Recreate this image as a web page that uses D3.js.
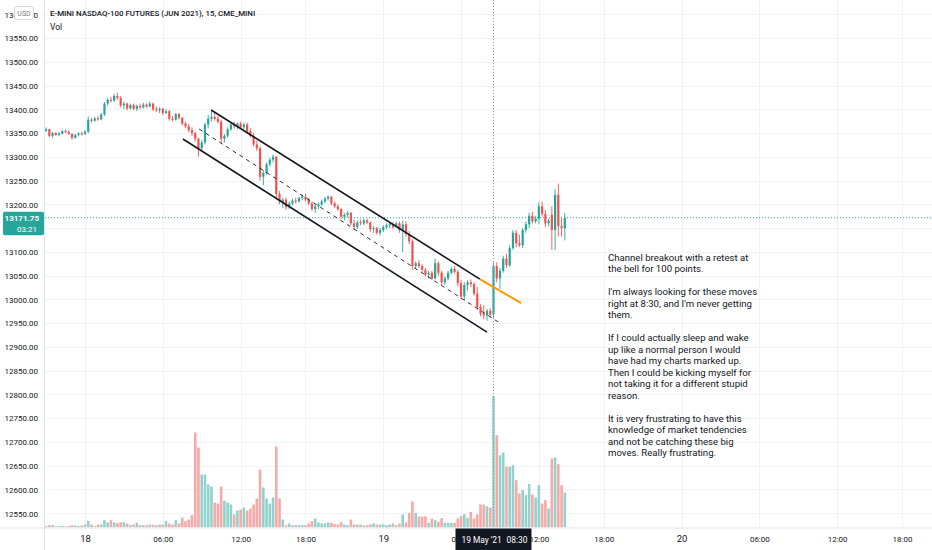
<!DOCTYPE html>
<html lang="en">
<head>
<meta charset="UTF-8" />
<title>E-mini Nasdaq-100 15m</title>
<style>
  body { margin: 0; background: #ffffff; }
  svg text { font-family: Roboto, "Open Sans", sans-serif; }
</style>
</head>
<body>
<script src="https://cdn.jsdelivr.net/npm/d3@7"></script>
<div id="app"></div>
<script>
// DATA (15 min bars from 17 May 21:00 CT)
const opens = [
  13355,13358,13344,13350,13346,13349,13354,13352,13348,13340,
  13346,13349,13348,13353,13378,13376,13381,13379,13389,13412,
  13420,13418,13428,13424,13408,13412,13402,13409,13401,13407,
  13404,13410,13406,13412,13400,13398,13401,13392,13396,13380,
  13378,13390,13382,13370,13364,13356,13350,13338,13318,13330,
  13368,13380,13384,13380,13374,13338,13344,13358,13368,13364,
  13370,13362,13368,13354,13344,13326,13318,13258,13266,13284,
  13294,13300,13222,13206,13210,13194,13202,13208,13206,13213,
  13216,13210,13202,13190,13196,13200,13206,13212,13216,13202,
  13196,13190,13174,13178,13182,13160,13152,13162,13160,13166,
  13162,13148,13150,13140,13146,13152,13156,13158,13152,13160,
  13146,13158,13138,13122,13070,13076,13070,13062,13052,13056,
  13044,13076,13056,13036,13044,13056,13064,13058,13034,13006,
  13030,13036,13032,13012,12984,12970,12966,12976,12968,13070,
  13044,13060,13086,13072,13108,13140,13118,13114,13146,13158,
  13176,13164,13170,13196,13180,13160,13178,13146,13220,13154,
  13150
];
const highs = [
  13362,13359,13352,13352,13352,13356,13358,13356,13350,13348,
  13352,13353,13356,13385,13382,13384,13386,13392,13415,13424,
  13426,13433,13435,13428,13416,13414,13412,13412,13410,13412,
  13414,13413,13416,13414,13406,13404,13403,13400,13398,13386,
  13392,13392,13384,13374,13370,13362,13352,13340,13336,13372,
  13388,13396,13392,13386,13378,13348,13362,13372,13374,13372,
  13374,13372,13372,13360,13350,13334,13322,13272,13288,13298,
  13305,13302,13228,13214,13214,13206,13212,13214,13216,13220,
  13222,13214,13206,13200,13204,13210,13216,13219,13218,13206,
  13200,13192,13182,13186,13184,13168,13166,13168,13170,13170,
  13164,13154,13152,13150,13156,13160,13162,13162,13164,13164,
  13166,13164,13144,13126,13080,13082,13074,13066,13060,13060,
  13086,13080,13060,13048,13060,13068,13070,13062,13040,13036,
  13040,13042,13036,13026,12990,12988,12980,12982,13078,13078,
  13066,13092,13096,13114,13146,13146,13136,13150,13164,13182,
  13184,13176,13204,13206,13188,13170,13196,13232,13244,13172,
  13182
];
const lows = [
  13352,13341,13340,13344,13343,13347,13350,13346,13336,13338,
  13343,13345,13346,13350,13372,13374,13376,13377,13386,13408,
  13414,13416,13420,13404,13400,13398,13400,13398,13396,13400,
  13402,13403,13404,13396,13394,13392,13388,13390,13376,13374,
  13376,13378,13366,13360,13352,13344,13332,13300,13312,13326,
  13360,13374,13376,13370,13330,13330,13340,13354,13360,13358,
  13360,13358,13350,13340,13322,13312,13250,13240,13262,13280,
  13288,13210,13200,13192,13188,13190,13198,13202,13204,13208,
  13206,13198,13186,13182,13190,13196,13202,13208,13198,13192,
  13186,13170,13166,13172,13156,13146,13148,13156,13156,13158,
  13142,13140,13136,13134,13142,13148,13150,13148,13150,13140,
  13100,13132,13116,13062,13064,13066,13058,13048,13044,13040,
  13042,13050,13030,13030,13040,13052,13054,13028,13000,12998,
  13018,13026,13008,12978,12964,12958,12955,12962,12960,13036,
  13022,13056,13066,13068,13104,13110,13110,13108,13140,13150,
  13160,13160,13158,13174,13152,13154,13104,13104,13132,13132,
  13124
];
const closes = [
  13358,13344,13350,13346,13349,13354,13352,13348,13340,13346,
  13349,13348,13353,13378,13376,13381,13379,13389,13412,13420,
  13418,13428,13424,13408,13412,13402,13409,13401,13407,13404,
  13410,13406,13412,13400,13398,13401,13392,13396,13380,13378,
  13390,13382,13370,13364,13356,13350,13338,13318,13330,13368,
  13380,13384,13380,13374,13338,13344,13358,13368,13364,13370,
  13362,13368,13354,13344,13326,13318,13258,13266,13284,13294,
  13300,13222,13206,13210,13194,13202,13208,13206,13213,13216,
  13210,13202,13190,13196,13200,13206,13212,13216,13202,13196,
  13190,13174,13178,13182,13160,13152,13162,13160,13166,13162,
  13148,13150,13140,13146,13152,13156,13158,13152,13160,13146,
  13158,13138,13122,13070,13076,13070,13062,13052,13056,13044,
  13076,13056,13036,13044,13056,13064,13058,13034,13006,13030,
  13036,13032,13012,12984,12970,12966,12976,12968,13070,13044,
  13060,13086,13072,13108,13140,13118,13114,13146,13158,13176,
  13164,13170,13196,13180,13160,13166,13146,13220,13154,13150,
  13171.75
];
const volumes = [
  400,700,700,400,400,450,300,450,700,600,
  450,600,900,2000,900,400,900,900,2200,1500,
  2200,1600,1300,1500,1600,1200,700,900,1400,700,
  700,700,900,900,700,900,900,2000,1200,900,
  2200,1200,3000,1900,2400,3700,28500,24000,15900,15900,
  12900,12300,7500,7200,12300,8100,7500,6900,3900,5100,
  5400,6000,5100,5700,6900,8700,17400,12000,8700,7200,
  9000,24300,8700,2400,700,1200,700,700,700,700,
  700,1200,1900,2700,1500,1200,1200,1500,1400,1000,
  900,1600,900,700,2400,900,900,900,600,700,
  900,1200,900,900,900,700,900,1200,700,1200,
  3900,1500,4400,7800,4400,3300,3300,3400,1400,2700,
  2200,1700,2800,1400,1400,1400,1400,2700,3400,4000,
  2900,4700,2700,3900,6900,6900,6400,6000,39400,27700,
  21700,22500,18200,18200,18700,14200,10200,11200,9700,13000,
  9900,9000,12700,7200,8200,5700,20700,21000,19000,12700,
  10500
];

const sessionStart = Date.UTC(2021, 4, 17, 21, 0);
const breakHour = 16;            // CME daily halt 16:00-17:00 CT
const slotCount = 274;
const priceTicks = d3.range(12550, 13601, 50);
const lastPrice = 13171.75;
const countdown = "03:21";
const crossIndex = 138;
const crossLabel = ["19 May '21", "08:30"];

// drawings: [bar index, price]
const channelUpper = [[50.9, 13398.4], [133.8, 13042.7]];
const channelLower = [[42.2, 13337.4], [136.0, 12931.0]];
const channelMid = [[47.2, 13358.5], [140.0, 12950.0]];
const retestLine = [[133.8, 13042.7], [146.5, 12992.2]];

const title = "E-MINI NASDAQ-100 FUTURES (JUN 2021), 15, CME_MINI";
const noteLines = [
  "Channel breakout with a retest at",
  "the bell for 100 points.",
  "",
  "I'm always looking for these moves",
  "right at 8:30, and I'm never getting",
  "them.",
  "",
  "If I could actually sleep and wake",
  "up like a normal person I would",
  "have had my charts marked up.",
  "Then I could be kicking myself for",
  "not taking it for a different stupid",
  "reason.",
  "",
  "It is very frustrating to have this",
  "knowledge of market tendencies",
  "and not be catching these big",
  "moves. Really frustrating."
];

// TIME SLOTS (skip the daily halt)
const slots = [];
for (let t = sessionStart; slots.length < slotCount; t += 15 * 60000) {
  const d = new Date(t);
  if (d.getUTCHours() !== breakHour) slots.push(d);
}
const timeTicks = slots
  .map((d, i) => ({ d, i }))
  .filter(s => s.d.getUTCMinutes() === 0 && s.d.getUTCHours() % 6 === 0);

// SVG
const w = 932;
const h = 550;
const axisW = 45;
const plotBottom = 527.5;
const up = "#26a69a";
const down = "#ef5350";

const svg = d3.select("#app")
  .append("svg")
  .attr("width", w)
  .attr("height", h);

svg.append("defs").append("clipPath").attr("id", "plot")
  .append("rect").attr("x", axisW).attr("y", 0)
  .attr("width", w - axisW).attr("height", plotBottom);

// SCALES
const xScale = d3.scaleLinear().domain([-0.34, 273.26]).range([axisW, w]);
const yScale = d3.scaleLinear().domain([12519.9, 13630]).range([plotBottom, 0]);
const yVol = d3.scaleLinear().domain([0, 40000]).range([plotBottom, plotBottom - 133.3]);

// GRID
const grid = svg.append("g").attr("clip-path", "url(#plot)");
grid.selectAll(".hgrid").data(priceTicks).enter().append("line")
  .attr("x1", axisW).attr("x2", w)
  .attr("y1", d => Math.round(yScale(d)) + 0.5)
  .attr("y2", d => Math.round(yScale(d)) + 0.5)
  .attr("stroke", "#f0f2f6");
grid.selectAll(".vgrid").data(timeTicks).enter().append("line")
  .attr("x1", d => Math.round(xScale(d.i)) + 0.5)
  .attr("x2", d => Math.round(xScale(d.i)) + 0.5)
  .attr("y1", 0).attr("y2", plotBottom)
  .attr("stroke", "#f0f2f6");

const plot = svg.append("g").attr("clip-path", "url(#plot)");

// VOLUME
plot.selectAll(".vol").data(volumes).enter().append("rect")
  .attr("x", (d, i) => xScale(i) - 1.3)
  .attr("width", 2.6)
  .attr("y", d => yVol(d))
  .attr("height", d => plotBottom - yVol(d))
  .attr("fill", (d, i) => closes[i] >= opens[i] ? "#92d2cc" : "#f7a9a7");

// PRICE LINE
plot.append("line")
  .attr("x1", axisW).attr("x2", w)
  .attr("y1", yScale(lastPrice)).attr("y2", yScale(lastPrice))
  .attr("stroke", up).attr("stroke-dasharray", "1,2");

// CANDLES
const candles = plot.selectAll(".candle").data(closes).enter().append("g");
candles.append("line")
  .attr("x1", (d, i) => xScale(i)).attr("x2", (d, i) => xScale(i))
  .attr("y1", (d, i) => yScale(highs[i]))
  .attr("y2", (d, i) => yScale(lows[i]))
  .attr("stroke", (d, i) => d >= opens[i] ? up : down)
  .attr("stroke-width", 0.9);
candles.append("rect")
  .attr("x", (d, i) => xScale(i) - 1.1)
  .attr("width", 2.2)
  .attr("y", (d, i) => yScale(Math.max(d, opens[i])))
  .attr("height", (d, i) => Math.max(1, Math.abs(yScale(d) - yScale(opens[i]))))
  .attr("fill", (d, i) => d >= opens[i] ? up : down);

// DRAWINGS
const seg = d3.line().x(d => xScale(d[0])).y(d => yScale(d[1]));
plot.append("path").attr("d", seg(channelUpper))
  .attr("stroke", "#131722").attr("stroke-width", 1.6).attr("fill", "none");
plot.append("path").attr("d", seg(channelLower))
  .attr("stroke", "#131722").attr("stroke-width", 1.6).attr("fill", "none");
plot.append("path").attr("d", seg(channelMid))
  .attr("stroke", "#131722").attr("stroke-width", 0.9)
  .attr("stroke-dasharray", "4,4").attr("fill", "none");
plot.append("path").attr("d", seg(retestLine))
  .attr("stroke", "#ff9800").attr("stroke-width", 2).attr("fill", "none");

// CROSSHAIR
plot.append("line")
  .attr("x1", Math.round(xScale(crossIndex)) + 0.5)
  .attr("x2", Math.round(xScale(crossIndex)) + 0.5)
  .attr("y1", 0).attr("y2", plotBottom)
  .attr("stroke", "#9598a1").attr("stroke-dasharray", "1,2");

// AXES
svg.append("line").attr("x1", axisW - 0.5).attr("x2", axisW - 0.5)
  .attr("y1", 0).attr("y2", h).attr("stroke", "#e0e3eb");
svg.append("line").attr("x1", 0).attr("x2", w)
  .attr("y1", plotBottom + 0.5).attr("y2", plotBottom + 0.5).attr("stroke", "#e0e3eb");

const yAxis = d3.axisLeft(yScale)
  .tickValues(priceTicks.filter(p => Math.abs(yScale(p) - yScale(lastPrice)) > 12))
  .tickFormat(d3.format(".2f"))
  .tickSize(0).tickPadding(0);
const gy = svg.append("g").attr("transform", "translate(38,0)").call(yAxis);
gy.select(".domain").remove();
gy.selectAll("text").attr("font-size", 8).attr("fill", "#131722").attr("dy", "0.35em");

const xAxis = d3.axisBottom(xScale)
  .tickValues(timeTicks.map(t => t.i))
  .tickFormat(i => {
    const d = slots[i];
    return d.getUTCHours() === 0 ? String(d.getUTCDate()) : d3.utcFormat("%H:%M")(d);
  })
  .tickSize(0).tickPadding(0);
const gx = svg.append("g").attr("transform", "translate(0," + (plotBottom + 14) + ")").call(xAxis);
gx.select(".domain").remove();
gx.selectAll("text")
  .attr("dy", 0)
  .attr("fill", "#131722")
  .attr("font-size", i => slots[i].getUTCHours() === 0 ? 9.5 : 8);

// CROSSHAIR TIME LABEL
const cx = xScale(crossIndex);
svg.append("rect").attr("x", cx - 38).attr("y", plotBottom + 1)
  .attr("width", 76).attr("height", h - plotBottom - 1).attr("fill", "#131722");
svg.append("text").attr("x", cx - 32).attr("y", plotBottom + 15)
  .attr("font-size", 8.4).attr("fill", "#fff").text(crossLabel[0]);
svg.append("text").attr("x", cx + 13).attr("y", plotBottom + 15)
  .attr("font-size", 8.4).attr("fill", "#fff").text(crossLabel[1]);

// LAST PRICE LABEL
const py = yScale(lastPrice);
svg.append("rect").attr("x", 3).attr("y", py - 6)
  .attr("width", 41).attr("height", 23.5).attr("rx", 2).attr("fill", up);
svg.append("text").attr("x", 39).attr("y", py + 3)
  .attr("text-anchor", "end").attr("font-size", 8).attr("font-weight", 700)
  .attr("fill", "#fff").text(d3.format(".2f")(lastPrice));
svg.append("text").attr("x", 37).attr("y", py + 14)
  .attr("text-anchor", "end").attr("font-size", 8)
  .attr("fill", "#fff").text(countdown);

// USD BADGE
svg.append("rect").attr("x", 14.5).attr("y", 6.5).attr("width", 19).attr("height", 13)
  .attr("rx", 3).attr("fill", "#fff").attr("stroke", "#d1d4dc");
svg.append("text").attr("x", 24).attr("y", 15.5).attr("text-anchor", "middle")
  .attr("font-size", 7).attr("fill", "#787b86").text("USD");

// TITLE
svg.append("text").attr("x", 50).attr("y", 16)
  .attr("font-size", 7.9).attr("font-weight", 500).attr("fill", "#131722").text(title);
svg.append("text").attr("x", 50).attr("y", 30)
  .attr("font-size", 8.5).attr("fill", "#131722").text("Vol");

// NOTE
svg.append("text")
  .attr("font-size", 9.6).attr("fill", "#131722")
  .selectAll("tspan").data(noteLines).enter().append("tspan")
  .attr("x", 608)
  .attr("y", (d, i) => 261 + i * 11.47)
  .text(d => d);
</script>
</body>
</html>
